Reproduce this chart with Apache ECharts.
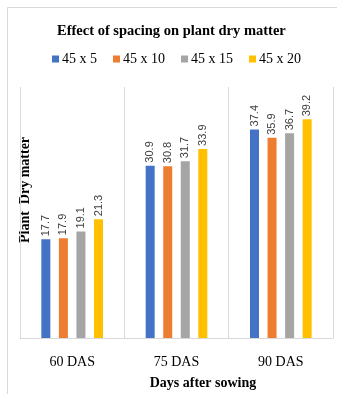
<!DOCTYPE html>
<html>
<head>
<meta charset="utf-8">
<script src="https://cdn.jsdelivr.net/npm/echarts@6/dist/echarts.min.js"></script>
<style>
html,body{margin:0;padding:0;background:#fff;}
#chart{width:337px;height:394px;}
</style>
</head>
<body>
<div id="chart"></div>
<script>
const categories = ['60 DAS', '75 DAS', '90 DAS'];
const seriesNames = ['45 x 5', '45 x 10', '45 x 15', '45 x 20'];
const s45x5 = [17.7, 30.9, 37.4];
const s45x10 = [17.9, 30.8, 35.9];
const s45x15 = [19.1, 31.7, 36.7];
const s45x20 = [21.3, 33.9, 39.2];
const colors = ['#4472C4', '#ED7D31', '#A5A5A5', '#FFC000'];
const seriesValues = [s45x5, s45x10, s45x15, s45x20];

const serif = '"Liberation Serif", serif';
const sans = '"Liberation Sans", sans-serif';
const chart = echarts.init(document.getElementById('chart'), null, {renderer: 'canvas'});

const series = seriesValues.map((vals, i) => ({
  name: seriesNames[i],
  type: 'bar',
  data: vals,
  barWidth: 9,
  barGap: '95%',
  itemStyle: {color: colors[i]},
  label: {
    show: true,
    position: 'top',
    rotate: 90,
    align: 'left',
    verticalAlign: 'middle',
    distance: 3,
    color: '#404040',
    fontSize: 11,
    fontFamily: sans,
    formatter: p => p.value.toFixed(1)
  }
}));

chart.setOption({
  animation: false,
  backgroundColor: '#fff',
  color: colors,
  title: {
    text: 'Effect of spacing on plant dry matter',
    left: 57,
    top: 24,
    padding: 0,
    textStyle: {fontFamily: serif, fontWeight: 'bold', fontSize: 14.5, color: '#000'}
  },
  legend: {
    data: seriesNames,
    top: 52,
    left: 52,
    padding: 0,
    itemWidth: 7,
    itemHeight: 7,
    itemGap: 16,
    icon: 'rect',
    textStyle: {fontFamily: serif, fontSize: 14, color: '#000', padding: [0,0,0,-2]}
  },
  grid: {left: 20, right: 4, top: 87, bottom: 56},
  xAxis: {
    type: 'category',
    data: categories,
    axisLine: {show: true, lineStyle: {color: '#d9d9d9', width: 1}},
    axisTick: {show: false},
    splitLine: {show: true, lineStyle: {color: '#d9d9d9', width: 1}},
    axisLabel: {fontFamily: serif, fontSize: 14, color: '#000', margin: 17}
  },
  yAxis: {
    type: 'value',
    min: 0,
    max: 45,
    show: false
  },
  graphic: [
    {
      type: 'rect',
      shape: {x: 7.5, y: 7.5, width: 340, height: 400},
      style: {fill: 'none', stroke: '#d9d9d9', lineWidth: 1},
      silent: true, z: -1
    },
    {
      type: 'text',
      x: 25, y: 190,
      rotation: Math.PI / 2,
      style: {
        text: 'Plant  Dry matter',
        fontFamily: serif, fontWeight: 'bold', fontSize: 14, fill: '#000',
        align: 'center', verticalAlign: 'middle'
      }
    },
    {
      type: 'text',
      x: 203, y: 383,
      style: {
        text: 'Days after sowing',
        fontFamily: serif, fontWeight: 'bold', fontSize: 14, fill: '#000',
        align: 'center', verticalAlign: 'middle'
      }
    }
  ],
  series: series
});
</script>
</body>
</html>
